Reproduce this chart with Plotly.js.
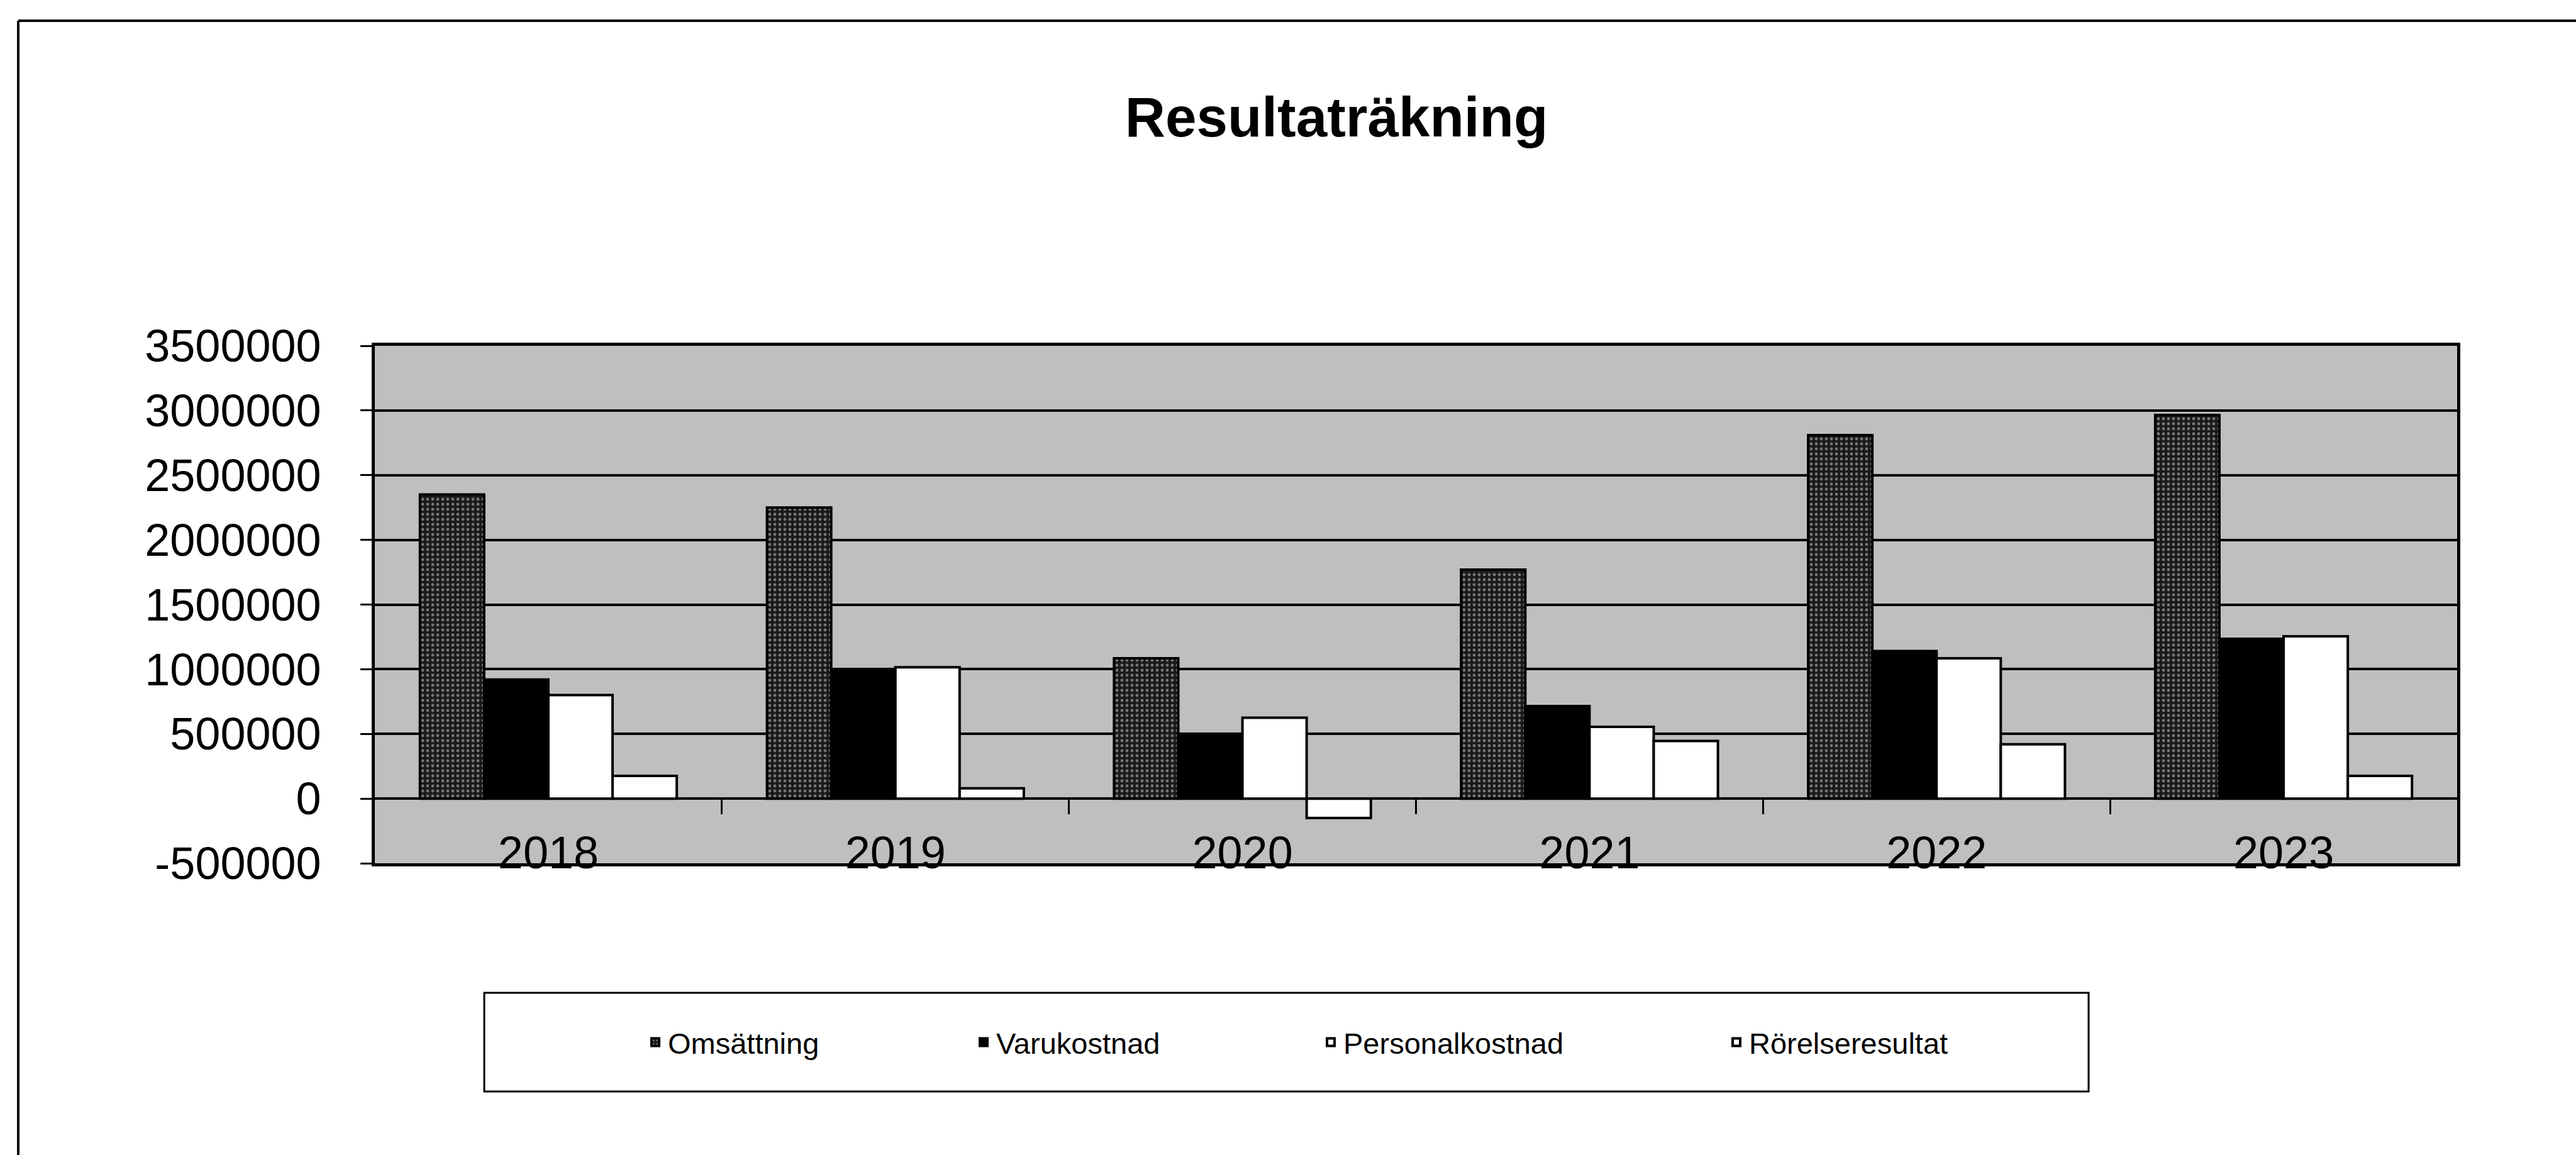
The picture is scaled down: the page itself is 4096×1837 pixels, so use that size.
<!DOCTYPE html>
<html>
<head>
<meta charset="utf-8">
<script src="https://cdn.plot.ly/plotly-3.0.1.min.js"></script>
<style>
  html, body { margin: 0; padding: 0; background: #ffffff; }
  #chart { width: 4096px; height: 1837px; }
</style>
</head>
<body>
<div id="chart"></div>
<script>
// ---- data ----
const categories = ['2018', '2019', '2020', '2021', '2022', '2023'];
const omsattning = [2350000, 2250000, 1085000, 1770000, 2810000, 2965000];
const varukostnad = [920000, 985000, 485000, 715000, 1140000, 1235000];
const personalkostnad = [800000, 1015000, 625000, 555000, 1085000, 1255000];
const rorelseresultat = [175000, 80000, -150000, 445000, 420000, 175000];
const seriesNames = ['Omsättning', 'Varukostnad', 'Personalkostnad', 'Rörelseresultat'];
const yTickValues = [-500000, 0, 500000, 1000000, 1500000, 2000000, 2500000, 3000000, 3500000];
const yTickLabels = ['-500000', '0', '500000', '1000000', '1500000', '2000000', '2500000', '3000000', '3500000'];
const chartTitle = 'Resultaträkning';

// category index positions (for the label axis and the boundary ticks on the zero line)
const catIndex = categories.map((c, i) => i);
const catBoundaries = categories.slice(1).map((c, i) => i + 0.5);

// ---- layout geometry (px) ----
const W = 4096, H = 1837;
const M = { l: 596, r: 189, t: 550, b: 464 };
const PW = W - M.l - M.r, PH = H - M.t - M.b;
const px2x = p => (p - M.l) / PW;
const px2y = p => (H - M.b - p) / PH;

const FONT = '"Liberation Sans", Arial, sans-serif';
const yMin = -500000, yMax = 3500000;
const xRange = [-0.5, categories.length - 0.5];

const lineStyle = { color: '#000000', width: 4 };
const traces = [
  { y: omsattning, name: seriesNames[0], legend: 'legend',
    marker: { color: '#1a1a1a', line: lineStyle,
              pattern: { shape: '.', fillmode: 'replace', bgcolor: '#1a1a1a', fgcolor: '#767676', size: 8, solidity: 0.28 } } },
  { y: varukostnad, name: seriesNames[1], legend: 'legend2',
    marker: { color: '#000000', line: lineStyle } },
  { y: personalkostnad, name: seriesNames[2], legend: 'legend3',
    marker: { color: '#ffffff', line: lineStyle } },
  { y: rorelseresultat, name: seriesNames[3], legend: 'legend4',
    marker: { color: '#ffffff', line: lineStyle } }
].map(t => Object.assign({ type: 'bar', x: categories, hoverinfo: 'skip' }, t));

// empty helper traces so that the overlay axes (tick marks / labels) get drawn
traces.push({ type: 'scatter', x: [], y: [], xaxis: 'x2', yaxis: 'y2', showlegend: false, hoverinfo: 'skip' });
traces.push({ type: 'scatter', x: [], y: [], xaxis: 'x3', yaxis: 'y2', showlegend: false, hoverinfo: 'skip' });

const legendTextStarts = [1064, 1586, 2138, 2783];
const legendY = px2y(1658);
function legendCfg(i) {
  return { x: px2x(legendTextStarts[i] - 42), y: legendY, xanchor: 'left', yanchor: 'middle',
           orientation: 'h', bgcolor: 'rgba(0,0,0,0)', borderwidth: 0,
           font: { family: FONT, size: 47, color: '#000000' } };
}

const layout = {
  width: W, height: H,
  margin: M,
  paper_bgcolor: '#ffffff',
  plot_bgcolor: '#bfbfbf',
  barmode: 'group',
  bargap: 0.26,
  bargroupgap: 0,
  showlegend: true,
  title: { text: chartTitle, x: 2125 / W, xref: 'container', xanchor: 'center',
           y: 1 - 186 / H, yref: 'container', yanchor: 'middle',
           font: { family: FONT, size: 89, color: '#000000', weight: 'bold' } },
  font: { family: FONT, color: '#000000' },
  // main category axis: frame lines only
  xaxis: {
    type: 'category', range: xRange,
    showgrid: false, zeroline: false,
    showline: true, mirror: true, linecolor: '#000000', linewidth: 5,
    ticks: '', showticklabels: false
  },
  // tick marks on the zero line at category boundaries
  xaxis2: {
    overlaying: 'x', anchor: 'free', position: (0 - yMin) / (yMax - yMin),
    range: xRange, showgrid: false, zeroline: false, showline: false,
    tickmode: 'array', tickvals: catBoundaries, showticklabels: false,
    ticks: 'outside', ticklen: 24, tickwidth: 3, tickcolor: '#000000'
  },
  // category labels, sitting on the bottom edge of the plot area
  xaxis3: {
    overlaying: 'x', anchor: 'free', position: px2y(1308),
    range: xRange, showgrid: false, zeroline: false, showline: false,
    tickmode: 'array', tickvals: catIndex, ticktext: categories,
    ticks: '', showticklabels: true,
    tickfont: { family: FONT, size: 72, color: '#000000' }
  },
  yaxis: {
    range: [yMin, yMax],
    tickmode: 'array', tickvals: yTickValues, ticktext: yTickLabels,
    showgrid: true, gridcolor: '#000000', gridwidth: 4,
    zeroline: true, zerolinecolor: '#000000', zerolinewidth: 4,
    showline: true, mirror: true, linecolor: '#000000', linewidth: 5,
    ticks: 'outside', ticklen: 66, tickwidth: 1, tickcolor: 'rgba(0,0,0,0)',
    tickfont: { family: FONT, size: 72, color: '#000000' }
  },
  // visible short tick marks on the value axis
  yaxis2: {
    overlaying: 'y', anchor: 'x', side: 'left',
    range: [yMin, yMax], showgrid: false, zeroline: false, showline: false,
    tickmode: 'array', tickvals: yTickValues, showticklabels: false,
    ticks: 'outside', ticklen: 22, tickwidth: 3, tickcolor: '#000000'
  },
  legend: legendCfg(0),
  legend2: legendCfg(1),
  legend3: legendCfg(2),
  legend4: legendCfg(3),
  shapes: [
    // outer chart frame (top and left edges visible in the scan)
    { type: 'line', xref: 'paper', yref: 'paper', x0: px2x(29), x1: px2x(W + 10), y0: px2y(33), y1: px2y(33),
      line: { color: '#000000', width: 4 } },
    { type: 'line', xref: 'paper', yref: 'paper', x0: px2x(29), x1: px2x(29), y0: px2y(33), y1: px2y(H + 10),
      line: { color: '#000000', width: 4 } },
    // legend box
    { type: 'rect', xref: 'paper', yref: 'paper', x0: px2x(770), x1: px2x(3321), y0: px2y(1736), y1: px2y(1579),
      line: { color: '#000000', width: 3 }, fillcolor: 'rgba(0,0,0,0)' }
  ]
};

Plotly.newPlot('chart', traces, layout, { staticPlot: true, displayModeBar: false });
</script>
</body>
</html>
